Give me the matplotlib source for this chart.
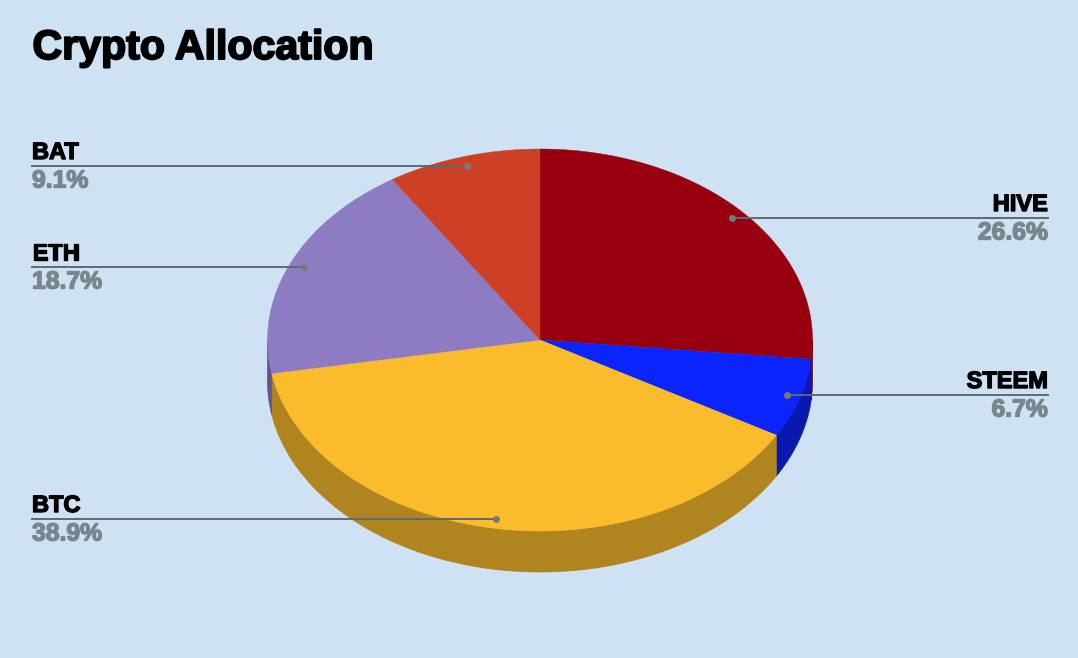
import numpy as np
import matplotlib
matplotlib.use('Agg')
import matplotlib.pyplot as plt
import matplotlib.patheffects as pe

W, H = 1078, 658
bg = '#cfe2f3'

# clockwise from 12 o'clock
labels = ['HIVE', 'STEEM', 'BTC', 'ETH', 'BAT']
values = [26.6, 6.7, 38.9, 18.7, 9.1]
pct_text = ['26.6%', '6.7%', '38.9%', '18.7%', '9.1%']
colors = ['#980010', '#0b24fb', '#fbbc2c', '#8e7cc3', '#cc4125']
side_colors = ['#6e000b', '#0818b0', '#b0841f', '#5f5390', '#8f2e1a']

cx, cy = 540, 340
rx, ry = 272.5, 191
depth = 41

fig = plt.figure(figsize=(W / 100, H / 100), dpi=100, facecolor=bg)
# whole figure in pixel coords, y down
ax = fig.add_axes([0, 0, 1, 1])
ax.set_xlim(0, W)
ax.set_ylim(H, 0)
ax.axis('off')

edges = np.cumsum([0] + values) / sum(values) * 2 * np.pi


def ex(t):
    return cx + rx * np.sin(t)


def ey(t):
    return cy - ry * np.cos(t)


def heavy(c, w):
    # no Arial Black here, so thicken the bold a bit
    return [pe.withStroke(linewidth=w, foreground=c)]


# side wall first, only the front half shows
for i in range(len(values)):
    a = max(edges[i], np.pi / 2)
    b = min(edges[i + 1], 3 * np.pi / 2)
    if b <= a:
        continue
    t = np.linspace(a, b, 200)
    xs = np.r_[ex(t), ex(t[::-1])]
    ys = np.r_[ey(t), ey(t[::-1]) + depth]
    ax.fill(xs, ys, color=side_colors[i], lw=0.5, zorder=2)

# top face
for i in range(len(values)):
    t = np.linspace(edges[i], edges[i + 1], 200)
    xs = np.r_[cx, ex(t)]
    ys = np.r_[cy, ey(t)]
    ax.fill(xs, ys, color=colors[i], lw=0.3, zorder=3)

# label layout
line_y = [218, 395, 519, 267, 166]
dot_x = [732, 787, 496, 304, 467]
side = ['r', 'r', 'l', 'l', 'l']
line_c = '#5d6a72'
dot_c = '#6f7c82'
pct_c = '#7a868e'

for i in range(len(labels)):
    if side[i] == 'l':
        x0, ha = 31, 'left'
        tx = 32
    else:
        x0, ha = 1049, 'right'
        tx = 1048
    ax.plot([x0, dot_x[i]], [line_y[i], line_y[i]], color=line_c, lw=1.4, zorder=5,
            solid_capstyle='butt')
    ax.plot(dot_x[i], line_y[i], 'o', color=dot_c, ms=5, mew=0, zorder=5)
    ax.text(tx, line_y[i] - 7, labels[i], ha=ha, va='baseline', fontsize=17,
            family='Liberation Sans', weight='bold', color='black', zorder=6,
            path_effects=heavy('black', 1.0))
    ax.text(tx, line_y[i] + 21.5, pct_text[i], ha=ha, va='baseline', fontsize=17.8,
            family='Liberation Sans', weight='bold', color=pct_c, zorder=6,
            path_effects=heavy(pct_c, 1.0))

ax.text(32.5, 59, 'Crypto Allocation', ha='left', va='baseline', fontsize=29.6,
        family='Liberation Sans', weight='bold', color='black',
        path_effects=heavy('black', 1.4))

fig.savefig('out.png', dpi=100, facecolor=bg)
